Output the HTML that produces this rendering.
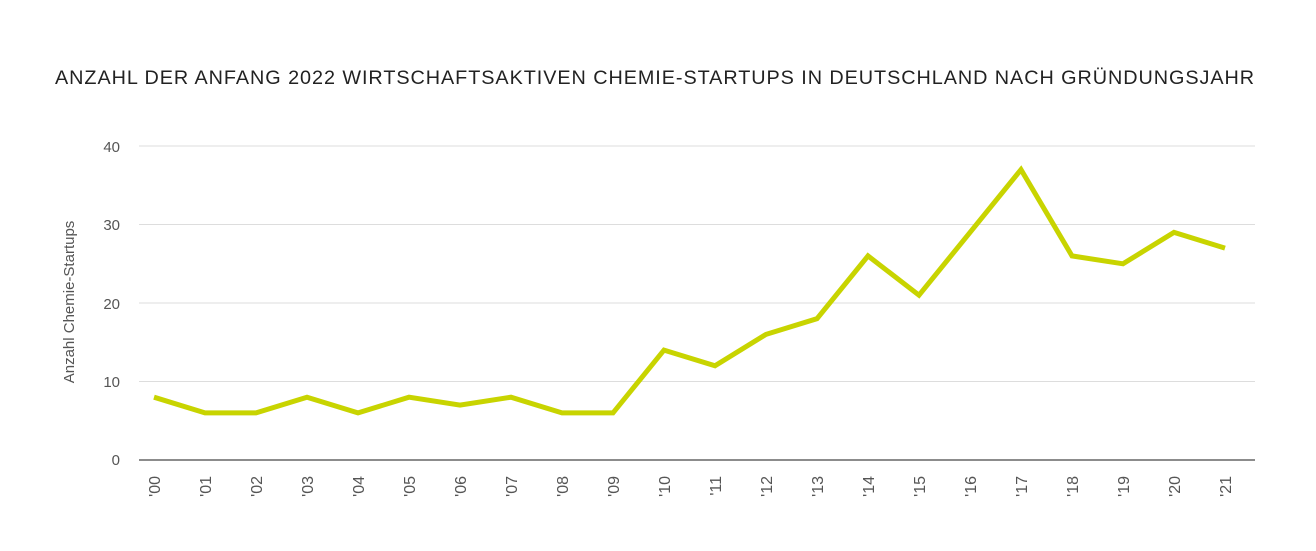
<!DOCTYPE html>
<html><head><meta charset="utf-8"><style>
body{margin:0;background:#fff;}
svg{display:block;font-family:"Liberation Sans",sans-serif;}
</style></head><body>
<svg width="1316" height="551" xmlns="http://www.w3.org/2000/svg">
<text x="655" y="84" text-anchor="middle" font-size="19" letter-spacing="0.9" fill="#222" textLength="1200" lengthAdjust="spacingAndGlyphs">ANZAHL DER ANFANG 2022 WIRTSCHAFTSAKTIVEN CHEMIE-STARTUPS IN DEUTSCHLAND NACH GRÜNDUNGSJAHR</text>
<g stroke="#ddd" stroke-width="1">
<line x1="139" x2="1255" y1="146" y2="146"/>
<line x1="139" x2="1255" y1="224.5" y2="224.5"/>
<line x1="139" x2="1255" y1="303" y2="303"/>
<line x1="139" x2="1255" y1="381.5" y2="381.5"/>
</g>
<line x1="139" x2="1255" y1="460" y2="460" stroke="#666" stroke-width="1.5"/>
<g font-size="15" fill="#555" text-anchor="end">
<text x="120" y="152">40</text><text x="120" y="230">30</text><text x="120" y="309">20</text><text x="120" y="387">10</text><text x="120" y="465">0</text>
</g>
<text transform="translate(74,302) rotate(-90)" text-anchor="middle" font-size="15" fill="#555">Anzahl Chemie-Startups</text>
<polyline fill="none" stroke="#c8d400" stroke-width="5" stroke-linejoin="miter" points="154,397.2 205,412.9 256,412.9 307,397.2 358,412.9 409,397.2 460,405.1 511,397.2 562,412.9 613,412.9 664,350.1 715,365.8 766,334.4 817,318.7 868,255.9 919,295.2 970,232.4 1021,169.6 1072,255.9 1123,263.8 1174,232.4 1225,248.1"/>
<g font-size="16" fill="#555" text-anchor="end">
<text transform="translate(160,476) rotate(-90)">'00</text>
<text transform="translate(211,476) rotate(-90)">'01</text>
<text transform="translate(262,476) rotate(-90)">'02</text>
<text transform="translate(313,476) rotate(-90)">'03</text>
<text transform="translate(364,476) rotate(-90)">'04</text>
<text transform="translate(415,476) rotate(-90)">'05</text>
<text transform="translate(466,476) rotate(-90)">'06</text>
<text transform="translate(517,476) rotate(-90)">'07</text>
<text transform="translate(568,476) rotate(-90)">'08</text>
<text transform="translate(619,476) rotate(-90)">'09</text>
<text transform="translate(670,476) rotate(-90)">'10</text>
<text transform="translate(721,476) rotate(-90)">'11</text>
<text transform="translate(772,476) rotate(-90)">'12</text>
<text transform="translate(823,476) rotate(-90)">'13</text>
<text transform="translate(874,476) rotate(-90)">'14</text>
<text transform="translate(925,476) rotate(-90)">'15</text>
<text transform="translate(976,476) rotate(-90)">'16</text>
<text transform="translate(1027,476) rotate(-90)">'17</text>
<text transform="translate(1078,476) rotate(-90)">'18</text>
<text transform="translate(1129,476) rotate(-90)">'19</text>
<text transform="translate(1180,476) rotate(-90)">'20</text>
<text transform="translate(1231,476) rotate(-90)">'21</text>
</g>
</svg>
</body></html>
